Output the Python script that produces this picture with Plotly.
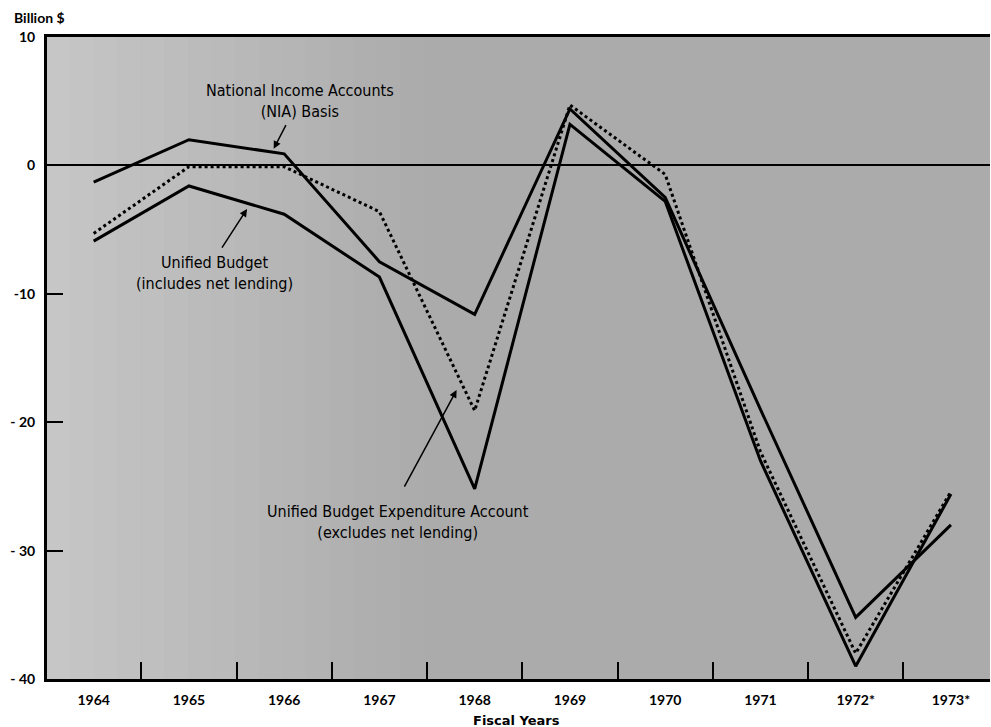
"""Federal budget surplus/deficit under three budget concepts, fiscal 1964-1973."""

import plotly.graph_objects as go

years = [1964, 1965, 1966, 1967, 1968, 1969, 1970, 1971, 1972, 1973]
year_labels = ["1964", "1965", "1966", "1967", "1968", "1969", "1970", "1971", "1972*", "1973*"]

# billion $
nia_basis = [-1.3, 2.0, 0.9, -7.5, -11.6, 4.4, -2.5, -19.0, -35.2, -28.0]
unified_budget = [-5.9, -1.6, -3.8, -8.7, -25.2, 3.2, -2.8, -23.0, -39.0, -25.6]
expenditure_account = [-5.3, -0.1, -0.1, -3.6, -19.1, 4.7, -0.7, -22.3, -38.0, -25.4]

y_ticks = [10, 0, -10, -20, -30, -40]
y_tick_labels = ["10", "0", "-10", "- 20", "- 30", "- 40"]

TEXT_FONT = "Liberation Sans Narrow, DejaVu Sans Condensed, Roboto, sans-serif"
TICK_FONT = "Lato, Open Sans, DejaVu Sans, sans-serif"

fig = go.Figure()

fig.add_trace(go.Scatter(x=years, y=expenditure_account, mode="lines",
                         line=dict(color="black", width=3, dash="dot"),
                         name="Unified Budget Expenditure Account"))
fig.add_trace(go.Scatter(x=years, y=unified_budget, mode="lines",
                         line=dict(color="black", width=3),
                         name="Unified Budget"))
fig.add_trace(go.Scatter(x=years, y=nia_basis, mode="lines",
                         line=dict(color="black", width=3),
                         name="NIA Basis"))

# lighter stipple toward the left of the panel (soft gradient)
n_bands = 16
for i in range(n_bands):
    fig.add_shape(type="rect", xref="x domain", yref="y domain",
                  x0=i * 0.025, x1=(i + 1) * 0.025, y0=0, y1=1,
                  fillcolor="white", opacity=0.32 * (1 - i / n_bands),
                  line_width=0, layer="below")

# text labels
fig.add_annotation(x=1966.17, y=5.0, text="National Income Accounts<br>(NIA) Basis",
                   showarrow=False, font=dict(family=TEXT_FONT, size=16, color="black"))
fig.add_annotation(x=1965.27, y=-8.4, text="Unified Budget<br>(includes net lending)",
                   showarrow=False, font=dict(family=TEXT_FONT, size=16, color="black"))
fig.add_annotation(x=1967.19, y=-27.8,
                   text="Unified Budget Expenditure Account<br>(excludes net lending)",
                   showarrow=False, font=dict(family=TEXT_FONT, size=16, color="black"))

# pointer arrows
arrow = dict(text="", showarrow=True, arrowhead=2, arrowsize=1, arrowwidth=1.5,
             arrowcolor="black", axref="pixel", ayref="pixel")
fig.add_annotation(x=1965.89, y=1.3, ax=13, ay=-25, **arrow)
fig.add_annotation(x=1965.61, y=-3.4, ax=-26, ay=40, **arrow)
fig.add_annotation(x=1967.81, y=-17.5, ax=-53, ay=98, **arrow)

fig.add_annotation(x=-0.037, y=1.03, xref="paper", yref="paper", xanchor="left", yanchor="middle",
                   text="Billion $", showarrow=False,
                   font=dict(family=TICK_FONT, size=14, color="black", weight="bold"))
fig.add_annotation(x=0.498, y=-0.064, xref="paper", yref="paper", xanchor="center", yanchor="middle",
                   text="Fiscal Years", showarrow=False,
                   font=dict(family="DejaVu Sans, sans-serif", size=13, color="black", weight="bold"))

fig.update_xaxes(
    range=[1963.51, 1973.41],
    tickvals=years, ticktext=year_labels,
    ticks="", ticklabelstandoff=6, automargin=False,
    tickfont=dict(family=TICK_FONT, size=14, color="black", weight="bold"),
    minor=dict(tick0=1964.5, dtick=1, ticks="inside", ticklen=17, tickwidth=2, tickcolor="black"),
    showgrid=False, zeroline=False,
    showline=True, linecolor="black", linewidth=3, mirror=True,
)
fig.update_yaxes(
    range=[-40, 10],
    tickvals=y_ticks, ticktext=y_tick_labels,
    ticks="inside", ticklen=16, tickwidth=2, tickcolor="black",
    ticklabelstandoff=6, automargin=False,
    tickfont=dict(family=TICK_FONT, size=14, color="black", weight="bold"),
    showgrid=False,
    zeroline=True, zerolinecolor="black", zerolinewidth=1.5,
    showline=True, linecolor="black", linewidth=3,
)

fig.update_layout(
    width=991, height=727,
    margin=dict(l=47, r=1, t=37, b=48),
    paper_bgcolor="white",
    plot_bgcolor="#ababab",
    showlegend=False,
)

# drop the default page margin so the 991x727 figure fills the window exactly
fig.write_html("out.html", config={"displayModeBar": False},
               post_script="document.body.style.margin = '0';")
